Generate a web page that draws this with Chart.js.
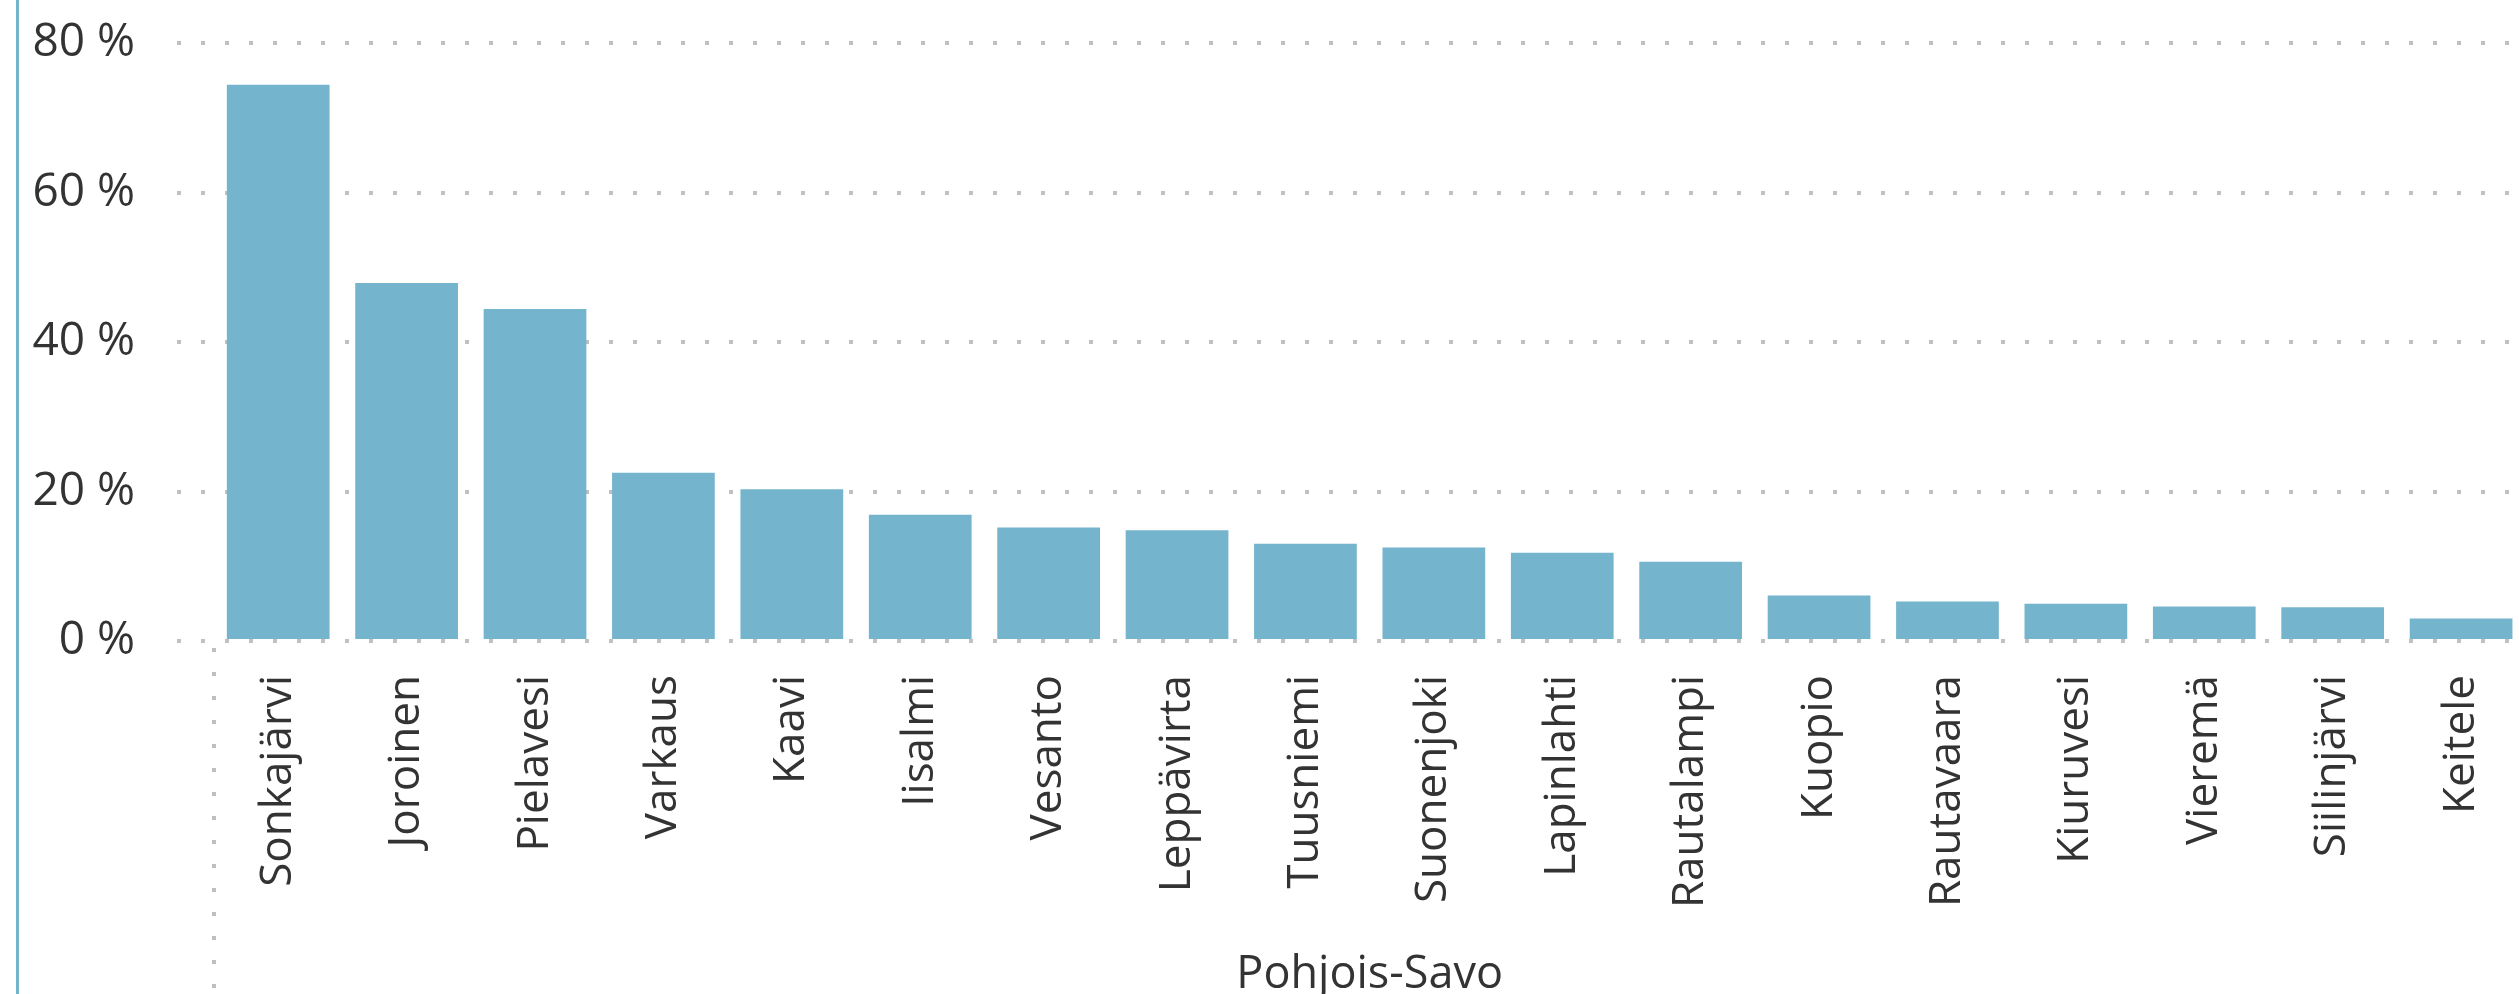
<!DOCTYPE html>
<html>
<head>
<meta charset="utf-8">
<title>Pohjois-Savo</title>
<script src="https://cdn.jsdelivr.net/npm/chart.js@4"></script>
<style>
    html, body { margin: 0; padding: 0; background: #fff; overflow: hidden; }
    #wrap { position: relative; width: 2519px; height: 994px; overflow: hidden; }
    #edge { position: absolute; left: 16px; top: 0; width: 3px; height: 994px; background: #74b4cd; }
    #chart { position: absolute; left: 0; top: 0; }
</style>
</head>
<body>
<div id="wrap">
    <canvas id="chart" width="2540" height="994"></canvas>
    <div id="edge"></div>
</div>
<script>
// kunnat, osuus prosentteina
const municipalities = ['Sonkajärvi', 'Joroinen', 'Pielavesi', 'Varkaus', 'Kaavi', 'Iisalmi',
    'Vesanto', 'Leppävirta', 'Tuusniemi', 'Suonenjoki', 'Lapinlahti', 'Rautalampi',
    'Kuopio', 'Rautavaara', 'Kiuruvesi', 'Vieremä', 'Siilinjärvi', 'Keitele'];
const shares = [74.4, 47.9, 44.4, 22.5, 20.3, 16.9, 15.2, 14.8, 13.0, 12.5, 11.8, 10.6,
    6.1, 5.3, 5.0, 4.6, 4.5, 3.0];
const yTicks = [0, 20, 40, 60, 80];
const regionName = 'Pohjois-Savo';

const barColor = '#74b4cd';
const textColor = '#333333';
const dotColor = '#c0c0c0';
const dots = [4, 20];
const fontFamily = "'Segoe UI', 'Open Sans', sans-serif";

// pisteviiva ryhmän vasempaan reunaan akselin alapuolelle
const groupLine = {
    id: 'groupLine',
    afterDraw(chart) {
        const { ctx, chartArea } = chart;
        ctx.save();
        ctx.strokeStyle = dotColor;
        ctx.lineWidth = 4;
        ctx.setLineDash(dots);
        ctx.lineDashOffset = 17;
        ctx.beginPath();
        ctx.moveTo(chartArea.left, chartArea.bottom);
        ctx.lineTo(chartArea.left, chart.height);
        ctx.stroke();
        ctx.restore();
    }
};

new Chart(document.getElementById('chart'), {
    type: 'bar',
    data: {
        labels: municipalities,
        datasets: [{
            data: shares,
            backgroundColor: barColor,
            barPercentage: 0.8,
            categoryPercentage: 1.0
        }]
    },
    options: {
        responsive: false,
        animation: false,
        layout: { padding: { top: 43, right: 4, left: 0, bottom: 0 } },
        plugins: {
            legend: { display: false },
            tooltip: { enabled: false }
        },
        scales: {
            x: {
                border: { display: false },
                grid: { display: false },
                ticks: {
                    color: textColor,
                    font: { family: fontFamily, size: 44 },
                    minRotation: 90,
                    maxRotation: 90,
                    padding: 26,
                    autoSkip: false
                },
                title: {
                    display: true,
                    text: regionName,
                    color: textColor,
                    font: { family: fontFamily, size: 45, lineHeight: 0.82 },
                    padding: 0
                },
                afterFit(scale) { scale.height = 353; }
            },
            y: {
                min: 0,
                max: 80,
                border: { display: false, dash: dots, dashOffset: 13 },
                grid: {
                    color: dotColor,
                    lineWidth: 4,
                    tickLength: 37,
                    tickColor: dotColor,
                    tickWidth: 4,
                    tickBorderDash: dots,
                    tickBorderDashOffset: 0
                },
                afterBuildTicks(scale) {
                    scale.ticks = yTicks.map(v => ({ value: v }));
                },
                ticks: {
                    color: textColor,
                    font: { family: fontFamily, size: 46 },
                    padding: 42,
                    callback: v => v + ' %'
                },
                afterFit(scale) {
                    scale.width = 214;
                    scale.paddingTop = 0;
                    scale.paddingBottom = 0;
                }
            }
        }
    },
    plugins: [groupLine]
});
</script>
</body>
</html>
